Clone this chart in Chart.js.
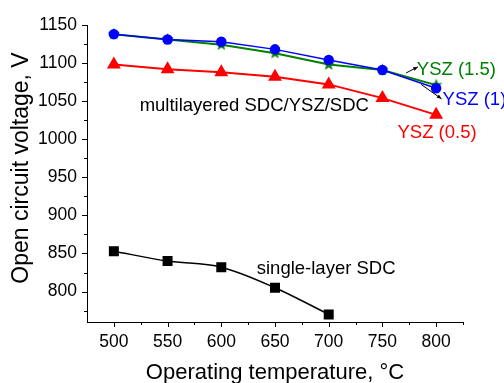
<!DOCTYPE html>
<html>
<head>
<meta charset="utf-8">
<script src="https://cdn.jsdelivr.net/npm/chart.js@4"></script>
<style>
  html, body { margin: 0; padding: 0; background: #fff; }
  #wrap { width: 504px; height: 383px; }
</style>
</head>
<body>
<div id="wrap"><canvas id="ocvChart" width="504" height="383"></canvas></div>
<script>
const temps = [500, 550, 600, 650, 700, 750, 800];
const singleTemps = [500, 550, 600, 650, 700];
const singleSDC = [853, 840, 832, 805, 770];
const ysz05 = [1098, 1092, 1088, 1082, 1072, 1054, 1032];
const ysz1 = [1138, 1131, 1128, 1118, 1104, 1091, 1067];
const ysz15 = [1138, 1131, 1124, 1113, 1098, 1091, 1071];
const xTicks = [500, 550, 600, 650, 700, 750, 800];
const yTicks = [800, 850, 900, 950, 1000, 1050, 1100, 1150];

const pts = (xs, ys) => xs.map((x, i) => ({ x, y: ys[i] }));

// filled star marker like the original plot
function starMarker(color, r) {
  const c = document.createElement("canvas");
  const s = Math.ceil(r * 2 + 2);
  c.width = s; c.height = s;
  const g = c.getContext("2d");
  g.beginPath();
  for (let i = 0; i < 10; i++) {
    const rad = i % 2 ? r * 0.42 : r;
    const a = -Math.PI / 2 + i * Math.PI / 5;
    g.lineTo(s / 2 + rad * Math.cos(a), s / 2 + rad * Math.sin(a));
  }
  g.closePath();
  g.fillStyle = color;
  g.fill();
  return c;
}

const labels = [
  { text: "multilayered SDC/YSZ/SDC", x: 524, y: 1044, color: "#000" },
  { text: "single-layer SDC", x: 633, y: 830, color: "#000" },
  { text: "YSZ (1.5)", x: 782, y: 1091, color: "#008000" },
  { text: "YSZ (1)", x: 806, y: 1051, color: "#0000ff" },
  { text: "YSZ (0.5)", x: 764, y: 1008, color: "#ff0000" }
];
const arrows = [
  { from: [772, 1087], to: [783, 1095] },
  { from: [786, 1072], to: [805, 1053] }
];

const FONT = "'Liberation Sans', Arial, sans-serif";

const decor = {
  id: "decor",
  afterDraw(chart) {
    const { ctx, chartArea: a, scales: { x, y } } = chart;
    ctx.save();
    ctx.strokeStyle = "#000";
    ctx.lineWidth = 1;
    // ticks (major + minor), pointing outward
    for (let v = 500; v <= 825; v += 25) {
      const px = Math.round(x.getPixelForValue(v)) + 0.5;
      const len = v % 50 === 0 ? 5 : 3;
      ctx.beginPath(); ctx.moveTo(px, a.bottom); ctx.lineTo(px, a.bottom + len); ctx.stroke();
    }
    for (let v = 775; v <= 1150; v += 25) {
      const py = Math.round(y.getPixelForValue(v)) + 0.5;
      const len = v % 50 === 0 ? 5 : 3;
      ctx.beginPath(); ctx.moveTo(a.left, py); ctx.lineTo(a.left - len, py); ctx.stroke();
    }
    // axis titles
    ctx.fillStyle = "#000";
    ctx.font = "22px " + FONT;
    ctx.textAlign = "center";
    ctx.textBaseline = "middle";
    ctx.fillText("Operating temperature, °C", (a.left + a.right) / 2, 373);
    ctx.save();
    ctx.translate(22, 168);
    ctx.rotate(-Math.PI / 2);
    ctx.font = "23px " + FONT;
    ctx.fillText("Open circuit voltage, V", 0, 0);
    ctx.restore();
    // annotations
    ctx.font = "18.5px " + FONT;
    ctx.textAlign = "left";
    labels.forEach(l => {
      ctx.fillStyle = l.color;
      ctx.fillText(l.text, x.getPixelForValue(l.x), y.getPixelForValue(l.y));
    });
    ctx.strokeStyle = "#000";
    ctx.fillStyle = "#000";
    arrows.forEach(ar => {
      const x1 = x.getPixelForValue(ar.from[0]), y1 = y.getPixelForValue(ar.from[1]);
      const x2 = x.getPixelForValue(ar.to[0]), y2 = y.getPixelForValue(ar.to[1]);
      const ang = Math.atan2(y2 - y1, x2 - x1);
      ctx.beginPath(); ctx.moveTo(x1, y1); ctx.lineTo(x2, y2); ctx.stroke();
      ctx.beginPath();
      ctx.moveTo(x2, y2);
      ctx.lineTo(x2 - 5 * Math.cos(ang - 0.4), y2 - 5 * Math.sin(ang - 0.4));
      ctx.lineTo(x2 - 5 * Math.cos(ang + 0.4), y2 - 5 * Math.sin(ang + 0.4));
      ctx.closePath(); ctx.fill();
    });
    ctx.restore();
  }
};

const tickFont = { family: FONT, size: 17.5 };

new Chart(document.getElementById("ocvChart"), {
  type: "line",
  data: {
    datasets: [
      {
        label: "single-layer SDC",
        data: pts(singleTemps, singleSDC),
        borderColor: "#000",
        backgroundColor: "#000",
        borderWidth: 1.5,
        pointStyle: "rect",
        pointRadius: 6,
        cubicInterpolationMode: "monotone"
      },
      {
        label: "YSZ (0.5)",
        data: pts(temps, ysz05),
        borderColor: "#ff0000",
        backgroundColor: "#ff0000",
        borderWidth: 2,
        pointStyle: "triangle",
        pointRadius: 6
      },
      {
        label: "YSZ (1)",
        data: pts(temps, ysz1),
        borderColor: "#0000ff",
        backgroundColor: "#0000ff",
        borderWidth: 1.5,
        pointStyle: "circle",
        pointRadius: 4.5
      },
      {
        label: "YSZ (1.5)",
        data: pts(temps, ysz15),
        borderColor: "#008000",
        backgroundColor: "#008000",
        borderWidth: 2,
        pointStyle: starMarker("#008000", 6.5)
      }
    ]
  },
  options: {
    responsive: false,
    animation: false,
    clip: false,
    layout: { padding: { top: 25, right: 41, left: 0, bottom: 0 } },
    plugins: { legend: { display: false }, tooltip: { enabled: false } },
    scales: {
      x: {
        type: "linear",
        min: 475,
        max: 825,
        grid: { display: false, drawTicks: false },
        border: { color: "#000", width: 1 },
        afterBuildTicks: s => { s.ticks = xTicks.map(value => ({ value })); },
        afterFit: s => { s.height = 61; },
        ticks: { color: "#000", font: tickFont, padding: 10, maxRotation: 0, callback: v => String(v) }
      },
      y: {
        min: 760,
        max: 1150,
        grid: { display: false, drawTicks: false },
        border: { color: "#000", width: 1 },
        afterBuildTicks: s => { s.ticks = yTicks.map(value => ({ value })); },
        afterFit: s => { s.width = 87; },
        ticks: { color: "#000", font: tickFont, padding: 10, callback: v => String(v) }
      }
    }
  },
  plugins: [decor]
});
</script>
</body>
</html>
